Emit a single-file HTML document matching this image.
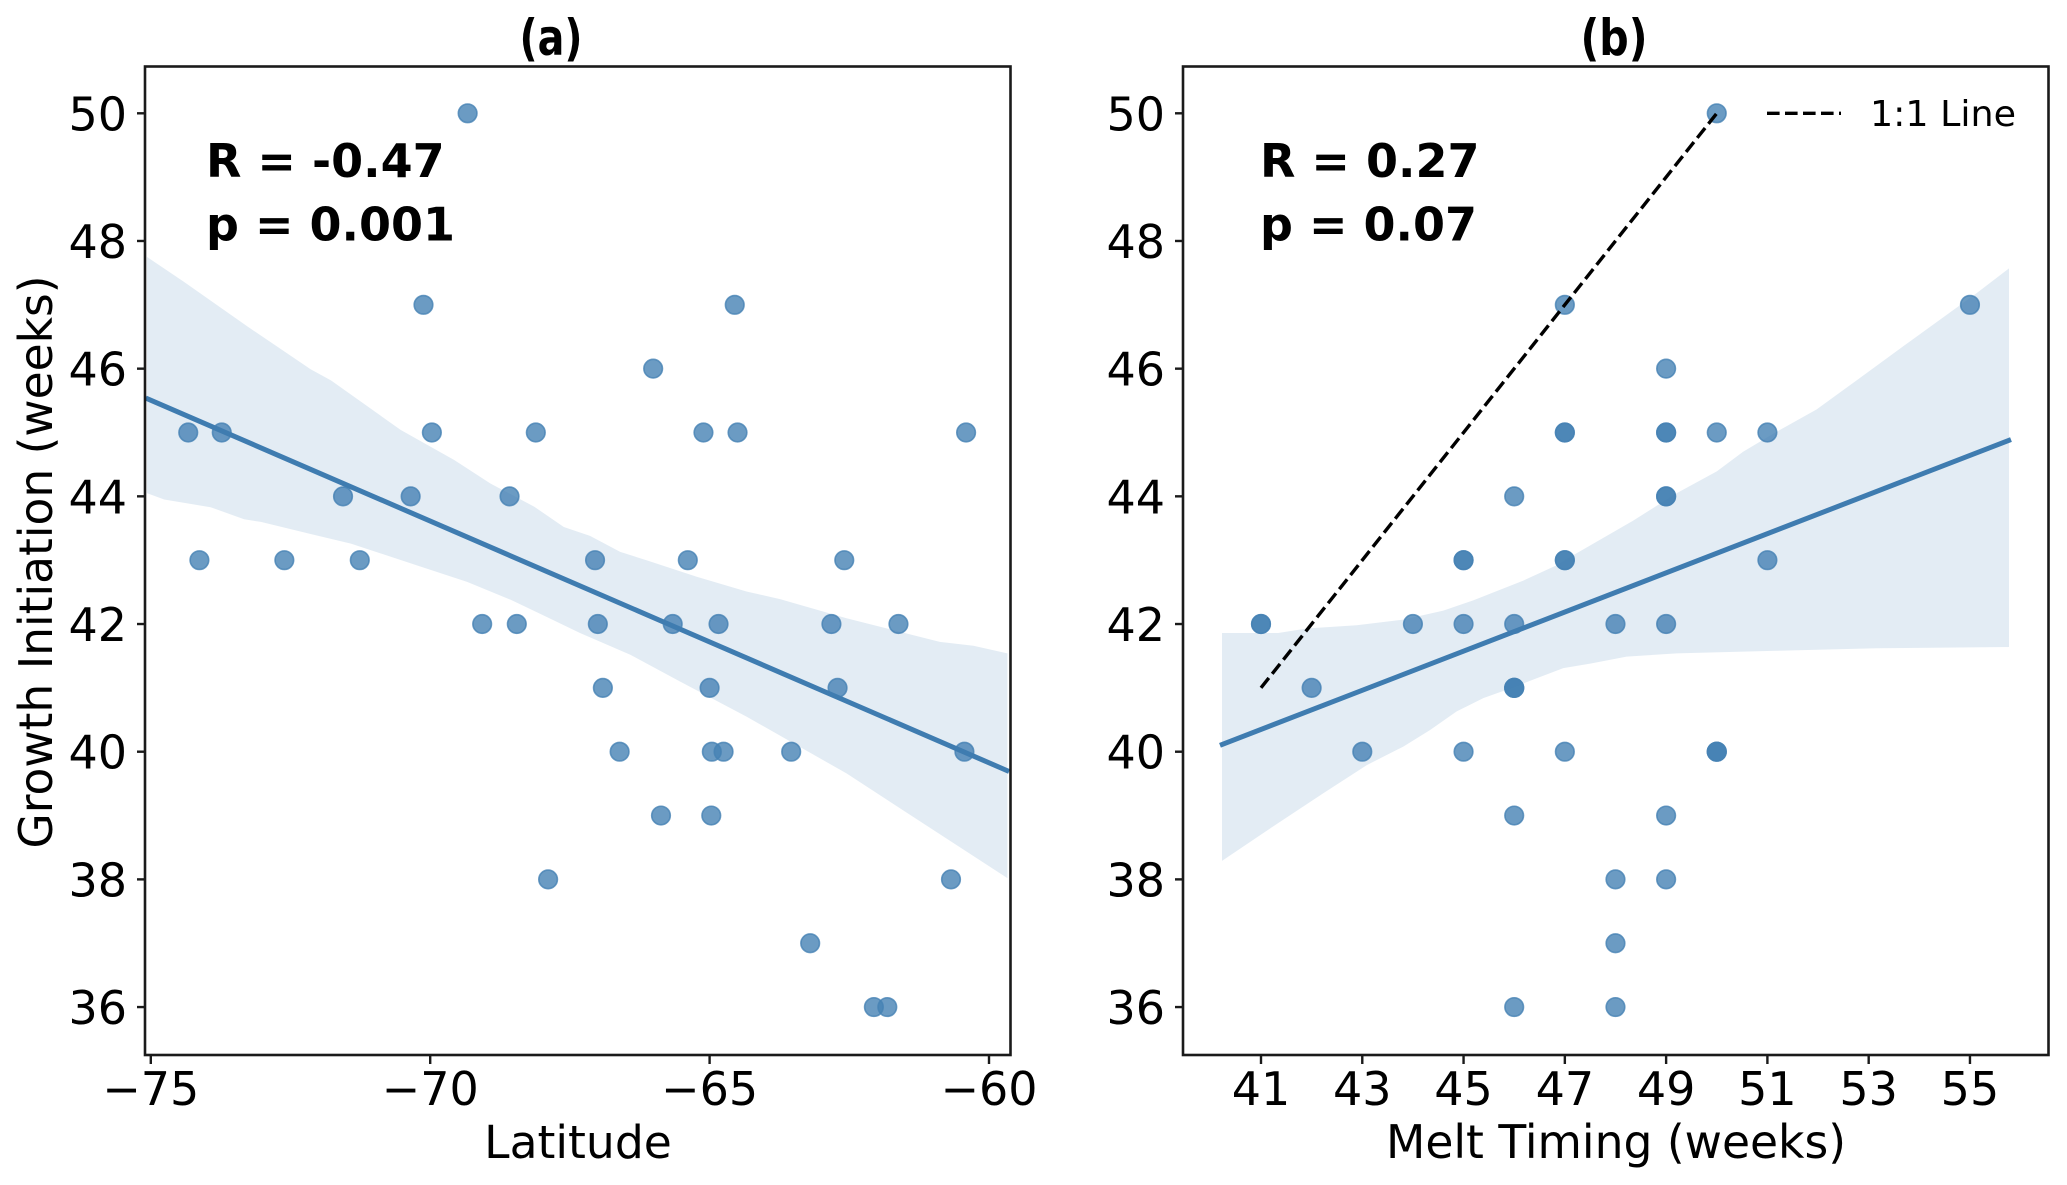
<!DOCTYPE html>
<html lang="en">
<head>
<meta charset="utf-8">
<title>Growth initiation vs latitude and melt timing</title>
<style>
  html, body { margin: 0; padding: 0; background: #ffffff; }
  svg { display: block; }
  text { font-family: "DejaVu Sans", "Liberation Sans", sans-serif; fill: #000000; }
</style>
</head>
<body>
<svg id="chart" xmlns="http://www.w3.org/2000/svg" width="2067" height="1185" viewBox="0 0 2067 1185">
  <rect x="0" y="0" width="2067" height="1185" fill="#ffffff"/>
  <g id="panel-a"></g>
  <g id="panel-b"></g>

  <text x="551" y="55" font-size="50" font-weight="700" text-anchor="middle" textLength="63" lengthAdjust="spacingAndGlyphs">(a)</text>
  <text x="1614" y="55" font-size="50" font-weight="700" text-anchor="middle" textLength="67" lengthAdjust="spacingAndGlyphs">(b)</text>

  <text transform="translate(52 562) rotate(-90)" font-size="46" text-anchor="middle" textLength="573" lengthAdjust="spacingAndGlyphs">Growth Initiation (weeks)</text>
  <text x="578" y="1158" font-size="45.6" text-anchor="middle">Latitude</text>
  <text x="1616" y="1158" font-size="46" text-anchor="middle" textLength="460" lengthAdjust="spacingAndGlyphs">Melt Timing (weeks)</text>

  <text x="206" y="177" font-size="46" font-weight="700">R = -0.47</text>
  <text x="206" y="240.5" font-size="46" font-weight="700">p = 0.001</text>
  <text x="1260" y="177" font-size="46" font-weight="700">R = 0.27</text>
  <text x="1260" y="240.5" font-size="46" font-weight="700">p = 0.07</text>

  <g>
    <line x1="1767" y1="113.3" x2="1841" y2="113.3" stroke="#000000" stroke-width="3.4" stroke-dasharray="12.6 5.4"/>
    <text x="1870" y="126" font-size="36" textLength="146" lengthAdjust="spacingAndGlyphs">1:1 Line</text>
  </g>
</svg>

<script>
// Panel (a): growth initiation vs latitude
const latitudeValues = [
  -74.33, -74.13, -73.73, -72.61, -71.56, -71.26, -70.35, -70.12, -69.97, -69.33, -69.07,
  -68.58, -68.45, -68.11, -67.89, -67.05, -67.00, -66.91, -66.61, -66.01, -65.87, -65.66,
  -65.39, -65.11, -65.00, -64.97, -64.96, -64.84, -64.75, -64.55, -64.50, -63.54, -63.20,
  -62.82, -62.71, -62.59, -62.06, -61.82, -61.62, -60.68, -60.44, -60.41
];
const growthByLatitude = [
  45, 43, 45, 43, 44, 43, 44, 47, 45, 50, 42,
  44, 42, 45, 38, 43, 42, 41, 40, 46, 39, 42,
  43, 45, 41, 39, 40, 42, 40, 47, 45, 40, 37,
  42, 41, 43, 36, 36, 42, 38, 40, 45
];
const latitudeFitX = [-75.09, -59.64];
const latitudeFitY = [45.54, 39.69];
const latitudeBandUpperX = [-75.07, -74.41, -73.27, -72.14, -71.78, -70.53, -69.57, -68.92, -68.14, -67.61, -67.14, -66.60, -66.13, -65.23, -64.34, -63.74, -62.55, -60.88, -60.28, -59.67];
const latitudeBandUpperY = [47.75, 47.36, 46.66, 45.99, 45.82, 45.04, 44.57, 44.20, 43.84, 43.52, 43.38, 43.13, 43.00, 42.74, 42.51, 42.39, 42.09, 41.72, 41.66, 41.54];
const latitudeBandLowerX = [-75.07, -74.76, -73.93, -73.33, -73.03, -72.14, -71.42, -70.17, -69.34, -68.56, -67.96, -67.32, -66.42, -65.53, -64.34, -62.55, -61.36, -59.67];
const latitudeBandLowerY = [44.05, 43.95, 43.83, 43.64, 43.60, 43.41, 43.26, 42.90, 42.66, 42.38, 42.13, 41.86, 41.52, 41.10, 40.55, 39.66, 38.98, 38.02];
const latitudeTicks = [-75, -70, -65, -60];
const latitudeTickLabels = ["\u221275", "\u221270", "\u221265", "\u221260"];

// Panel (b): growth initiation vs melt timing
const meltValues = [
  41, 41, 42, 43, 44, 45, 45, 45, 45, 46, 46, 46, 46, 46, 46, 47, 47, 47, 47, 47, 47,
  48, 48, 48, 48, 49, 49, 49, 49, 49, 49, 49, 49, 50, 50, 50, 50, 51, 51, 55, 46, 50
];
const growthByMelt = [
  42, 42, 41, 40, 42, 43, 43, 42, 40, 44, 42, 41, 41, 39, 36, 47, 45, 45, 43, 43, 40,
  42, 38, 37, 36, 46, 45, 45, 44, 44, 42, 39, 38, 50, 45, 40, 40, 45, 43, 47, 41, 40
];
const meltFitX = [40.19, 55.81];
const meltFitY = [40.10, 44.89];
const meltBandUpperX = [40.23, 41.34, 41.90, 42.89, 43.81, 44.60, 45.19, 46.18, 46.84, 47.17, 48.35, 49.21, 50.00, 50.52, 51.18, 51.97, 52.63, 53.82, 55.13, 55.77];
const meltBandUpperY = [41.86, 41.86, 41.93, 41.98, 42.07, 42.21, 42.37, 42.68, 42.92, 43.08, 43.62, 44.05, 44.39, 44.70, 45.01, 45.36, 45.74, 46.43, 47.18, 47.57];
const meltBandLowerX = [40.23, 41.24, 42.23, 43.09, 43.81, 44.34, 44.86, 45.39, 45.92, 46.51, 46.97, 47.50, 48.22, 49.21, 51.18, 53.16, 55.77];
const meltBandLowerY = [38.29, 38.83, 39.35, 39.79, 40.08, 40.34, 40.63, 40.84, 40.99, 41.17, 41.31, 41.38, 41.49, 41.54, 41.58, 41.62, 41.64];
const oneToOneX = [41, 50];
const oneToOneY = [41, 50];
const meltTicks = [41, 43, 45, 47, 49, 51, 53, 55];
const meltTickLabels = ["41", "43", "45", "47", "49", "51", "53", "55"];

// Shared y axis
const growthTicks = [36, 38, 40, 42, 44, 46, 48, 50];
const growthTickLabels = ["36", "38", "40", "42", "44", "46", "48", "50"];

// Axis functions
function yScale(v) { return 113.3 + (50 - v) * 63.84; }
function xScaleA(v) { return 150.8 + (v + 75) * 55.88; }
function xScaleB(v) { return 1261 + (v - 41) * 50.64; }

const SVG_NS = "http://www.w3.org/2000/svg";
const STEEL = "#4682b4";

function make(parent, tag, props) {
  const node = document.createElementNS(SVG_NS, tag);
  for (const key in props) node.setAttribute(key, props[key]);
  parent.appendChild(node);
  return node;
}

function drawPanel(parent, frame, xScale, xVals, yVals, fitX, fitY, upX, upY, loX, loY, xTicks, xLabels, yLabelRight) {
  // scatter points
  const dots = make(parent, "g", {});
  
  
  xVals.forEach(function (v, i) {
    const dot = make(dots, "circle", {
      cx: xScale(v), cy: yScale(yVals[i]), r: 9.3,
      fill: STEEL, "fill-opacity": 0.8,
      stroke: STEEL, "stroke-opacity": 0.8, "stroke-width": 1.6
    });
    
    
  });

  // confidence band
  const upper = upX.map(function (v, i) { return xScale(v).toFixed(1) + "," + yScale(upY[i]).toFixed(1); });
  const lower = loX.map(function (v, i) { return xScale(v).toFixed(1) + "," + yScale(loY[i]).toFixed(1); }).reverse();
  const band = make(parent, "polygon", {
    points: upper.concat(lower).join(" "), fill: STEEL, "fill-opacity": 0.15, stroke: "none"
  });
  
  

  // regression line
  const fit = make(parent, "line", {
    x1: xScale(fitX[0]), y1: yScale(fitY[0]), x2: xScale(fitX[1]), y2: yScale(fitY[1]),
    stroke: "#3f7cb0", "stroke-width": 5
  });
  
  

  // axes frame
  const box = make(parent, "rect", {
    x: frame.left, y: frame.top, width: frame.right - frame.left, height: frame.bottom - frame.top,
    fill: "none", stroke: "#1a1a1a", "stroke-width": 2.6
  });
  
  

  // x ticks
  xTicks.forEach(function (v, i) {
    const x = xScale(v);
    const tick = make(parent, "line", {
      x1: x, y1: frame.bottom, x2: x, y2: frame.bottom + 9, stroke: "#1a1a1a", "stroke-width": 2.4
    });
    
    
    const label = make(parent, "text", { x: x, y: 1105, "font-size": 46, "text-anchor": "middle" });
    label.textContent = xLabels[i];
    
    
  });

  // y ticks
  growthTicks.forEach(function (v, i) {
    const y = yScale(v);
    const tick = make(parent, "line", {
      x1: frame.left - 8, y1: y, x2: frame.left, y2: y, stroke: "#1a1a1a", "stroke-width": 2.4
    });
    
    
    const label = make(parent, "text", { x: yLabelRight, y: y + 17, "font-size": 46, "text-anchor": "end" });
    label.textContent = growthTickLabels[i];
    
    
  });
}

drawPanel(
  document.getElementById("panel-a"),
  { left: 145, right: 1010.5, top: 66.5, bottom: 1055 },
  xScaleA, latitudeValues, growthByLatitude, latitudeFitX, latitudeFitY,
  latitudeBandUpperX, latitudeBandUpperY, latitudeBandLowerX, latitudeBandLowerY,
  latitudeTicks, latitudeTickLabels, 127
);
drawPanel(
  document.getElementById("panel-b"),
  { left: 1183, right: 2048.5, top: 66.5, bottom: 1055 },
  xScaleB, meltValues, growthByMelt, meltFitX, meltFitY,
  meltBandUpperX, meltBandUpperY, meltBandLowerX, meltBandLowerY,
  meltTicks, meltTickLabels, 1165
);

// 1:1 reference line
const oneToOne = make(document.getElementById("panel-b"), "line", {
  x1: xScaleB(oneToOneX[0]), y1: yScale(oneToOneY[0]),
  x2: xScaleB(oneToOneX[1]), y2: yScale(oneToOneY[1]),
  stroke: "#000000", "stroke-width": 3.4, "stroke-dasharray": "12.6 5.4"
});


</script>
</body>
</html>
